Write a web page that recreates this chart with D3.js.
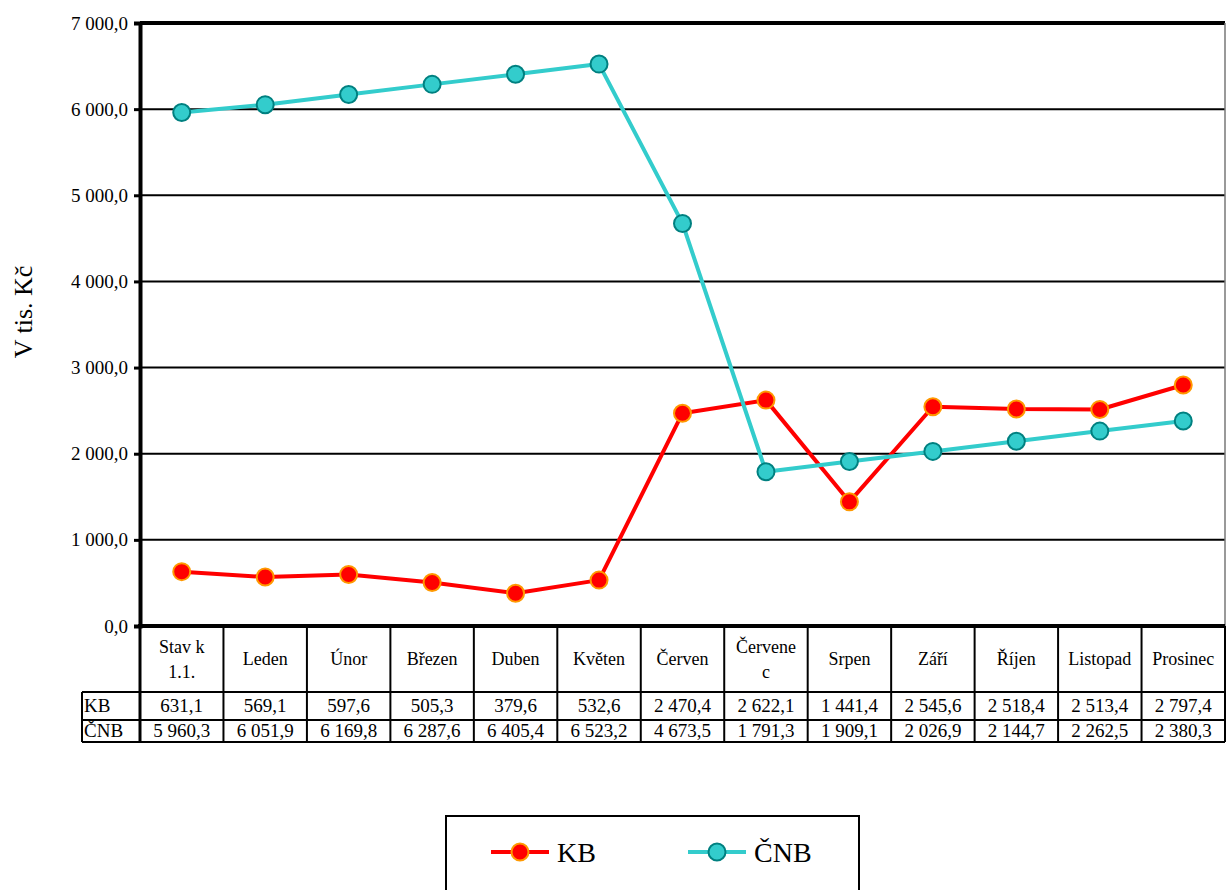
<!DOCTYPE html>
<html>
<head>
<meta charset="utf-8">
<script src="https://cdn.jsdelivr.net/npm/d3@7"></script>
<style>
  body { margin: 0; background: #fff; }
  svg { display: block; }
  svg text { font-family: "Liberation Serif", "Times New Roman", serif; }
</style>
</head>
<body>
<svg width="1226" height="890"></svg>
<script>
// months (header of the data table), "\n" = line break in the cell
const months = ['Stav k\n1.1.', 'Leden', 'Únor', 'Březen', 'Duben', 'Květen', 'Červen',
  'Červene\nc', 'Srpen', 'Září', 'Říjen', 'Listopad', 'Prosinec'];

const kbValues = [631.1, 569.1, 597.6, 505.3, 379.6, 532.6, 2470.4, 2622.1, 1441.4, 2545.6, 2518.4, 2513.4, 2797.4];
const cnbValues = [5960.3, 6051.9, 6169.8, 6287.6, 6405.4, 6523.2, 4673.5, 1791.3, 1909.1, 2026.9, 2144.7, 2262.5, 2380.3];

const yTicks = [0, 1000, 2000, 3000, 4000, 5000, 6000, 7000];

const series = [
  { name: 'KB', values: kbValues, line: '#ff0000', fill: '#ff0000', stroke: '#ff9900' },
  { name: 'ČNB', values: cnbValues, line: '#33cccc', fill: '#33cccc', stroke: '#008080' }
];

const serif = '"Liberation Serif", "Times New Roman", serif';
const svg = d3.select('svg');

const plotLeft = 140, plotRight = 1225, plotTop = 23, plotBottom = 626;

const x = d3.scaleBand()
  .domain(d3.range(months.length))
  .range([plotLeft, plotRight]);

const y = d3.scaleLinear()
  .domain([0, 7000])
  .range([plotBottom, plotTop]);

// czech number format: space for thousands, comma for decimals
const cz = d3.formatLocale({ decimal: ',', thousands: '\u00a0', grouping: [3], currency: ['', ''] });
const fmt = cz.format(',.1f');

// gridlines
svg.append('g')
  .selectAll('line')
  .data(yTicks.filter(d => d > 0 && d < 7000))
  .join('line')
    .attr('x1', plotLeft).attr('x2', plotRight)
    .attr('y1', d => y(d)).attr('y2', d => y(d))
    .attr('stroke', '#000').attr('stroke-width', 2);

// plot frame
svg.append('line')
  .attr('x1', plotLeft).attr('x2', plotRight).attr('y1', plotTop).attr('y2', plotTop)
  .attr('stroke', '#000').attr('stroke-width', 4);
svg.append('line')
  .attr('x1', plotRight).attr('x2', plotRight).attr('y1', plotTop).attr('y2', plotBottom)
  .attr('stroke', '#777').attr('stroke-width', 1.5);

// y axis
const yAxis = svg.append('g')
  .attr('transform', `translate(${plotLeft},0)`)
  .call(d3.axisLeft(y).tickValues(yTicks).tickFormat(fmt).tickSize(6).tickPadding(6));
yAxis.attr('font-family', serif);
yAxis.select('.domain').attr('stroke-width', 4);
yAxis.selectAll('.tick line').attr('stroke-width', 3);
yAxis.selectAll('.tick text').attr('font-size', 19).attr('fill', '#000');

svg.append('line')
  .attr('x1', plotLeft - 2).attr('x2', plotRight).attr('y1', plotBottom).attr('y2', plotBottom)
  .attr('stroke', '#000').attr('stroke-width', 4);

// y title
svg.append('text')
  .attr('transform', 'translate(32,312) rotate(-90)')
  .attr('text-anchor', 'middle')
  .attr('font-size', 26)
  .text('V tis. Kč');

// lines + markers
const cx = i => x(i) + x.bandwidth() / 2;
const line = d3.line().x((d, i) => cx(i)).y(d => y(d));

series.forEach(s => {
  svg.append('path')
    .datum(s.values)
    .attr('d', line)
    .attr('fill', 'none')
    .attr('stroke', s.line)
    .attr('stroke-width', 4)
    .attr('stroke-linejoin', 'round');
});
series.forEach(s => {
  svg.append('g')
    .selectAll('circle')
    .data(s.values)
    .join('circle')
      .attr('cx', (d, i) => cx(i))
      .attr('cy', d => y(d))
      .attr('r', 8.5)
      .attr('fill', s.fill)
      .attr('stroke', s.stroke)
      .attr('stroke-width', 2);
});

// data table
const tableLeft = 82;
const rowTops = [plotBottom, 692, 720, 742];
const table = svg.append('g');

// horizontal rules
table.selectAll('line.h')
  .data(rowTops.slice(1))
  .join('line')
    .attr('class', 'h')
    .attr('x1', tableLeft).attr('x2', plotRight)
    .attr('y1', d => d).attr('y2', d => d)
    .attr('stroke', '#000').attr('stroke-width', 2);

// vertical rules at band edges
table.selectAll('line.v')
  .data(d3.range(months.length + 1))
  .join('line')
    .attr('class', 'v')
    .attr('x1', i => i < months.length ? x(i) : plotRight)
    .attr('x2', i => i < months.length ? x(i) : plotRight)
    .attr('y1', plotBottom).attr('y2', rowTops[3])
    .attr('stroke', '#000').attr('stroke-width', i => i === 0 ? 3 : 2);
table.append('line')
  .attr('x1', tableLeft).attr('x2', tableLeft)
  .attr('y1', rowTops[1]).attr('y2', rowTops[3])
  .attr('stroke', '#000').attr('stroke-width', 2);

// header
months.forEach((m, i) => {
  const lines = m.split('\n');
  const yMid = (rowTops[0] + rowTops[1]) / 2;
  const t = table.append('text')
    .attr('x', cx(i))
    .attr('text-anchor', 'middle')
    .attr('font-size', 18);
  lines.forEach((l, j) => {
    t.append('tspan')
      .attr('x', cx(i))
      .attr('y', yMid + 6 + (j - (lines.length - 1) / 2) * 25)
      .text(l);
  });
});

// value rows
series.forEach((s, r) => {
  const yMid = (rowTops[r + 1] + rowTops[r + 2]) / 2 + 6;
  table.append('text')
    .attr('x', tableLeft + 2).attr('y', yMid)
    .attr('font-size', 19)
    .text(s.name);
  table.selectAll(null)
    .data(s.values)
    .join('text')
      .attr('x', (d, i) => cx(i))
      .attr('y', yMid)
      .attr('text-anchor', 'middle')
      .attr('font-size', 19)
      .text(d => fmt(d));
});

// legend
const legend = svg.append('g');
legend.append('rect')
  .attr('x', 446).attr('y', 816).attr('width', 413).attr('height', 90)
  .attr('fill', '#fff').attr('stroke', '#000').attr('stroke-width', 2);

const legendX = d3.scalePoint().domain(series.map(s => s.name)).range([491, 688]);
series.forEach(s => {
  const g = legend.append('g').attr('transform', `translate(${legendX(s.name)},852)`);
  g.append('line').attr('x1', 0).attr('x2', 58).attr('stroke', s.line).attr('stroke-width', 4);
  g.append('circle').attr('cx', 29).attr('r', 8.5)
    .attr('fill', s.fill).attr('stroke', s.stroke).attr('stroke-width', 2);
  g.append('text').attr('x', 66).attr('y', 10).attr('font-size', 28).text(s.name);
});

svg.selectAll('text').attr('font-family', serif);
</script>
</body>
</html>
